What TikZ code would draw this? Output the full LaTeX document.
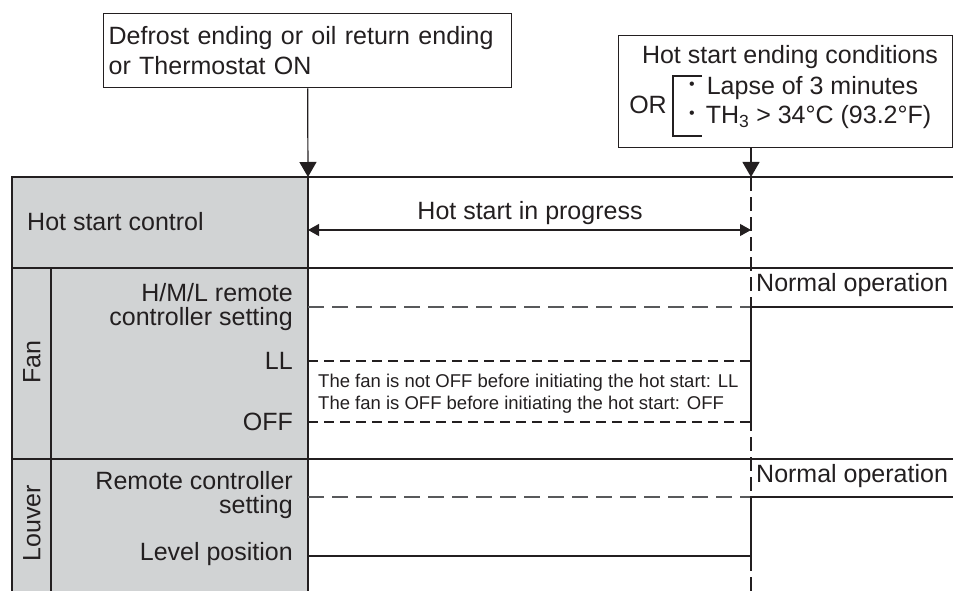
\documentclass[tikz,border=0pt]{standalone}
\usepackage{fontspec}
\setmainfont{Liberation Sans}
\usetikzlibrary{arrows.meta}
\definecolor{ink}{HTML}{231F20}
\definecolor{panelgray}{HTML}{D1D3D4}
\definecolor{trace}{HTML}{58595B}
\tikzset{
  evbox/.style={draw=ink,line width=1.3pt,inner sep=0pt,anchor=north west},
  evarr/.style={-{Triangle[length=15pt,width=17pt]},line width=1.2pt,draw=ink},
  spanarr/.style={{Triangle[length=11pt,width=12pt]}-{Triangle[length=11pt,width=12pt]},line width=1.2pt,draw=ink},
  tabline/.style={line width=2.2pt,draw=ink},
  cutline/.style={line width=1.1pt,draw=ink,dash pattern=on 14pt off 6pt},
  % signal lines
  setlvl/.style={line width=1.2pt,draw=trace,dash pattern=on 16pt off 8pt},
  fanlvl/.style={line width=2pt,draw=ink,dash pattern=on 10pt off 6pt},
  sig/.style={line width=2pt,draw=ink},
  lbl/.style={font=\fontsize{25}{24}\selectfont,text=ink,inner sep=0pt},
  rowlbl/.style={lbl,align=right,anchor=east},
  note/.style={font=\fontsize{18.5}{22}\selectfont,text=ink,inner sep=0pt,align=left,anchor=west}
}
\newcommand{\smalldot}{\raisebox{5pt}{\fontsize{16}{16}\selectfont\textbullet}}

\begin{document}
\begin{tikzpicture}[x=1pt,y=-1pt]
  \useasboundingbox (0,0) rectangle (953,591);
  % event boxes
  \node[evbox,minimum width=408pt,minimum height=74pt,text width=398pt,inner xsep=5pt,align=left,
        font=\fontsize{25}{30}\selectfont,text=ink] (onbox) at (103,13)
       {Defrost ending or oil return ending\\or Thermostat ON};
  \node[evbox,minimum width=334pt,minimum height=112pt] (offbox) at (618,35) {};
  \node[lbl] (hsend) at (790,57) {Hot start ending conditions};
  \node[lbl] (ornode) at (648,105) {OR};
  \node[lbl,anchor=west] (lapse) at (689,88) {\smalldot\hspace{12pt}Lapse of 3 minutes};
  \node[lbl,anchor=west] (thcond) at (689,117) {\smalldot\hspace{11pt}TH\textsubscript{3} > 34°C (93.2°F)};
  \draw[ink,line width=1.2pt] (702,76) -- (673,76) -- (673,136) -- (702,136);

  \coordinate (t0) at (308,177);
  \coordinate (t1) at (751,177);
  \draw[evarr] (onbox.south) -- (t0);
  \draw[evarr] (offbox.south -| t1) -- (t1);

  % table
  \fill[panelgray] (12,177) rectangle (308,591);
  \draw[cutline] (t1) -- (751,591);
  \draw[tabline] (953,177) -- (12,177) -- (12,591);
  \draw[tabline] (12,268) -- (953,268);
  \draw[tabline] (12,459) -- (953,459);
  \draw[tabline] (51,268) -- (51,591);
  \draw[tabline] (t0) -- (308,591);

  % hot start row
  \node[lbl,anchor=west] (hsc) at (27,222) {Hot start control};
  \node[lbl] (hsprog) at (530,213) {Hot start in progress};
  \coordinate (p0) at (308,230);
  \coordinate (p1) at (751,230);
  \draw[spanarr] (p0) -- (p1);

  % fan rows
  \node[lbl,rotate=90] (fanlab) at (32,362) {Fan};
  \node[rowlbl] (fanset) at (293,307) {H/M/L remote\\controller setting};
  \node[rowlbl] (fanll) at (293,361) {LL};
  \node[rowlbl] (fanoff) at (293,422) {OFF};
  \node[note] (fannote) at (318,394) {The fan is not OFF before initiating the hot start: LL\\The fan is OFF before initiating the hot start: OFF};
  \node[lbl,anchor=west] (fannorm) at (756,285) {Normal operation};
  \draw[setlvl] (308,307) -- (751,307);
  \draw[fanlvl] (308,361) -- (751,361);
  \draw[fanlvl] (308,422) -- (751,422);
  \draw[sig] (751,422) -- (751,307) -- (953,307);

  % louver rows
  \node[lbl,rotate=90] (loulab) at (32,523) {Louver};
  \node[rowlbl] (louset) at (293,495) {Remote controller\\setting};
  \node[rowlbl] (loulev) at (293,554) {Level position};
  \node[lbl,anchor=west] (lounorm) at (756,476) {Normal operation};
  \draw[setlvl] (308,497) -- (751,497);
  \draw[sig] (308,556) -- (751,556) -- (751,497) -- (953,497);
\end{tikzpicture}
\end{document}
